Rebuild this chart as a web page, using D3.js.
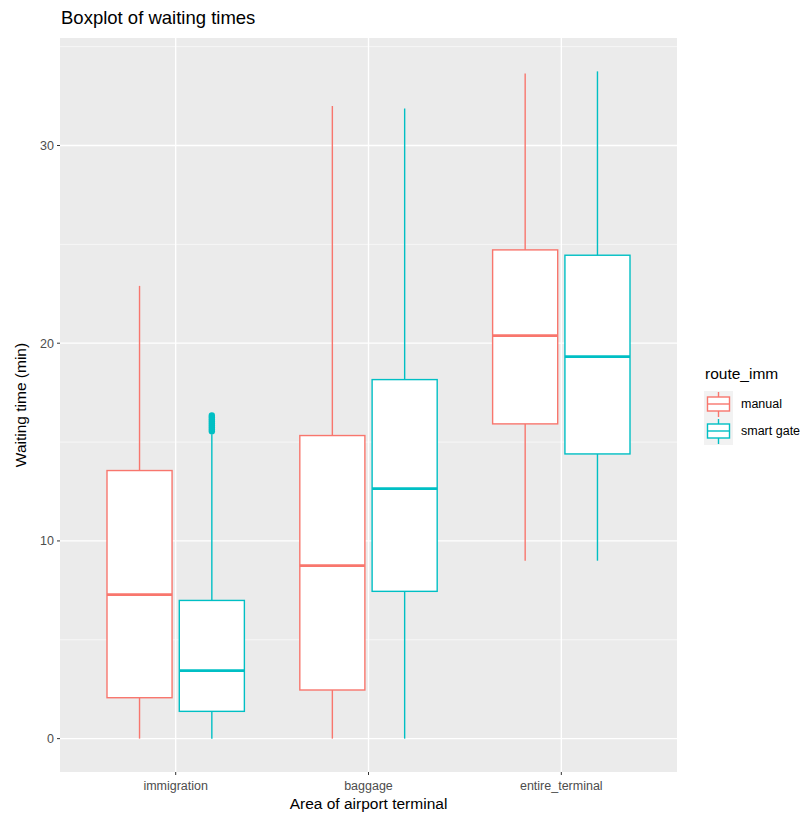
<!DOCTYPE html>
<html>
<head>
<meta charset="utf-8">
<script src="https://cdn.jsdelivr.net/npm/d3@7"></script>
<style>
  body { margin: 0; background: #fff; }
  text { font-family: "Liberation Sans", Arial, sans-serif; }
</style>
</head>
<body>
<svg id="chart" width="812" height="816"></svg>
<script>
// areas of the terminal and the two immigration routes
const areas = ['immigration', 'baggage', 'entire_terminal']
const routes = ['manual', 'smart gate']
const routeColors = ['#F8766D', '#00BFC4']

// box statistics: [lower whisker, q1, median, q3, upper whisker]
const manualStats = [
  [0, 2.07, 7.28, 13.56, 22.9],
  [0, 2.46, 8.75, 15.33, 32.0],
  [9.0, 15.92, 20.38, 24.72, 33.64]
]
const smartStats = [
  [0, 1.38, 3.44, 6.99, 15.4],
  [0, 7.45, 12.65, 18.16, 31.87],
  [9.0, 14.4, 19.32, 24.45, 33.75]
]
// outliers of the smart gate route at immigration
const smartOutliers = [15.55, 15.65, 15.75, 15.85, 15.95, 16.05, 16.15, 16.25, 16.35]

const yTicks = [0, 10, 20, 30]
const yMinor = [5, 15, 25, 35]

const panel = { left: 60, top: 38, right: 677, bottom: 772 }
const svg = d3.select('#chart')

// discrete axis expanded by 0.6 of a category on each side
const x = d3.scaleBand()
  .domain(areas)
  .range([panel.left, panel.right])
  .paddingOuter(0.1)
  .paddingInner(0)
const dataMax = 33.75
const y = d3.scaleLinear()
  .domain([-dataMax * 0.05, dataMax * 1.05])
  .range([panel.bottom, panel.top])

// panel background and grid
svg.append('rect')
  .attr('x', panel.left).attr('y', panel.top)
  .attr('width', panel.right - panel.left).attr('height', panel.bottom - panel.top)
  .attr('fill', '#EBEBEB')

svg.selectAll('.minor')
  .data(yMinor)
  .join('line')
  .attr('x1', panel.left).attr('x2', panel.right)
  .attr('y1', d => y(d)).attr('y2', d => y(d))
  .attr('stroke', '#fff').attr('stroke-width', 0.6)

svg.selectAll('.major')
  .data(yTicks)
  .join('line')
  .attr('x1', panel.left).attr('x2', panel.right)
  .attr('y1', d => y(d)).attr('y2', d => y(d))
  .attr('stroke', '#fff').attr('stroke-width', 1.3)

const cx = d => x(d) + x.bandwidth() / 2
svg.selectAll('.vmajor')
  .data(areas)
  .join('line')
  .attr('x1', cx).attr('x2', cx)
  .attr('y1', panel.top).attr('y2', panel.bottom)
  .attr('stroke', '#fff').attr('stroke-width', 1.3)

// boxes: width 0.75 dodged into two, each shrunk by 10%
const unit = x.bandwidth()
const boxW = unit * 0.375 * 0.9
const boxes = []
areas.forEach((a, i) => {
  boxes.push({ area: a, route: 0, s: manualStats[i], cx: cx(a) - unit * 0.1875 })
  boxes.push({ area: a, route: 1, s: smartStats[i], cx: cx(a) + unit * 0.1875 })
})

const g = svg.append('g')
const bg = g.selectAll('g.box')
  .data(boxes)
  .join('g')
  .attr('class', 'box')

bg.append('line')
  .attr('x1', d => d.cx).attr('x2', d => d.cx)
  .attr('y1', d => y(d.s[4])).attr('y2', d => y(d.s[3]))
  .attr('stroke', d => routeColors[d.route]).attr('stroke-width', 1.4)
bg.append('line')
  .attr('x1', d => d.cx).attr('x2', d => d.cx)
  .attr('y1', d => y(d.s[1])).attr('y2', d => y(d.s[0]))
  .attr('stroke', d => routeColors[d.route]).attr('stroke-width', 1.4)
bg.append('rect')
  .attr('x', d => d.cx - boxW / 2)
  .attr('width', boxW)
  .attr('y', d => y(d.s[3]))
  .attr('height', d => y(d.s[1]) - y(d.s[3]))
  .attr('fill', '#fff')
  .attr('stroke', d => routeColors[d.route]).attr('stroke-width', 1.4)
bg.append('line')
  .attr('x1', d => d.cx - boxW / 2).attr('x2', d => d.cx + boxW / 2)
  .attr('y1', d => y(d.s[2])).attr('y2', d => y(d.s[2]))
  .attr('stroke', d => routeColors[d.route]).attr('stroke-width', 2.8)

g.selectAll('circle.out')
  .data(smartOutliers)
  .join('circle')
  .attr('class', 'out')
  .attr('cx', boxes[1].cx)
  .attr('cy', d => y(d))
  .attr('r', 3.2)
  .attr('fill', routeColors[1])

// axes
const tickColor = '#333333'
svg.selectAll('.ytick')
  .data(yTicks)
  .join('line')
  .attr('x1', panel.left - 3).attr('x2', panel.left)
  .attr('y1', d => y(d)).attr('y2', d => y(d))
  .attr('stroke', tickColor).attr('stroke-width', 1)
svg.selectAll('.ylab')
  .data(yTicks)
  .join('text')
  .attr('x', panel.left - 6)
  .attr('y', d => y(d))
  .attr('dy', '0.35em')
  .attr('text-anchor', 'end')
  .attr('font-size', 12.5)
  .attr('fill', '#4D4D4D')
  .text(d => d)

svg.selectAll('.xtick')
  .data(areas)
  .join('line')
  .attr('x1', cx).attr('x2', cx)
  .attr('y1', panel.bottom).attr('y2', panel.bottom + 3)
  .attr('stroke', tickColor).attr('stroke-width', 1)
svg.selectAll('.xlab')
  .data(areas)
  .join('text')
  .attr('x', cx)
  .attr('y', panel.bottom + 18)
  .attr('text-anchor', 'middle')
  .attr('font-size', 12.5)
  .attr('fill', '#4D4D4D')
  .text(d => d)

svg.append('text')
  .attr('x', (panel.left + panel.right) / 2)
  .attr('y', 809)
  .attr('text-anchor', 'middle')
  .attr('font-size', 15.5)
  .attr('fill', '#000')
  .text('Area of airport terminal')

svg.append('text')
  .attr('transform', `translate(26,${(panel.top + panel.bottom) / 2}) rotate(-90)`)
  .attr('text-anchor', 'middle')
  .attr('font-size', 15.5)
  .attr('fill', '#000')
  .text('Waiting time (min)')

svg.append('text')
  .attr('x', 61)
  .attr('y', 24)
  .attr('font-size', 18.5)
  .attr('fill', '#000')
  .text('Boxplot of waiting times')

// legend
const lg = svg.append('g').attr('transform', 'translate(704,0)')
lg.append('text')
  .attr('x', 1).attr('y', 379)
  .attr('font-size', 15.5)
  .text('route_imm')

const key = lg.selectAll('g.key')
  .data(routes)
  .join('g')
  .attr('class', 'key')
  .attr('transform', (d, i) => `translate(0,${391 + i * 27})`)
key.append('rect')
  .attr('width', 29).attr('height', 27)
  .attr('fill', '#F2F2F2')
key.append('line')
  .attr('x1', 14.5).attr('x2', 14.5).attr('y1', 1).attr('y2', 26)
  .attr('stroke', (d, i) => routeColors[i]).attr('stroke-width', 1.4)
key.append('rect')
  .attr('x', 3.5).attr('y', 6).attr('width', 22).attr('height', 14)
  .attr('fill', '#fff')
  .attr('stroke', (d, i) => routeColors[i]).attr('stroke-width', 1.4)
key.append('line')
  .attr('x1', 3.5).attr('x2', 25.5).attr('y1', 13).attr('y2', 13)
  .attr('stroke', (d, i) => routeColors[i]).attr('stroke-width', 1.4)
key.append('text')
  .attr('x', 37).attr('y', 13)
  .attr('dy', '0.35em')
  .attr('font-size', 12.5)
  .text(d => d)
</script>
</body>
</html>
